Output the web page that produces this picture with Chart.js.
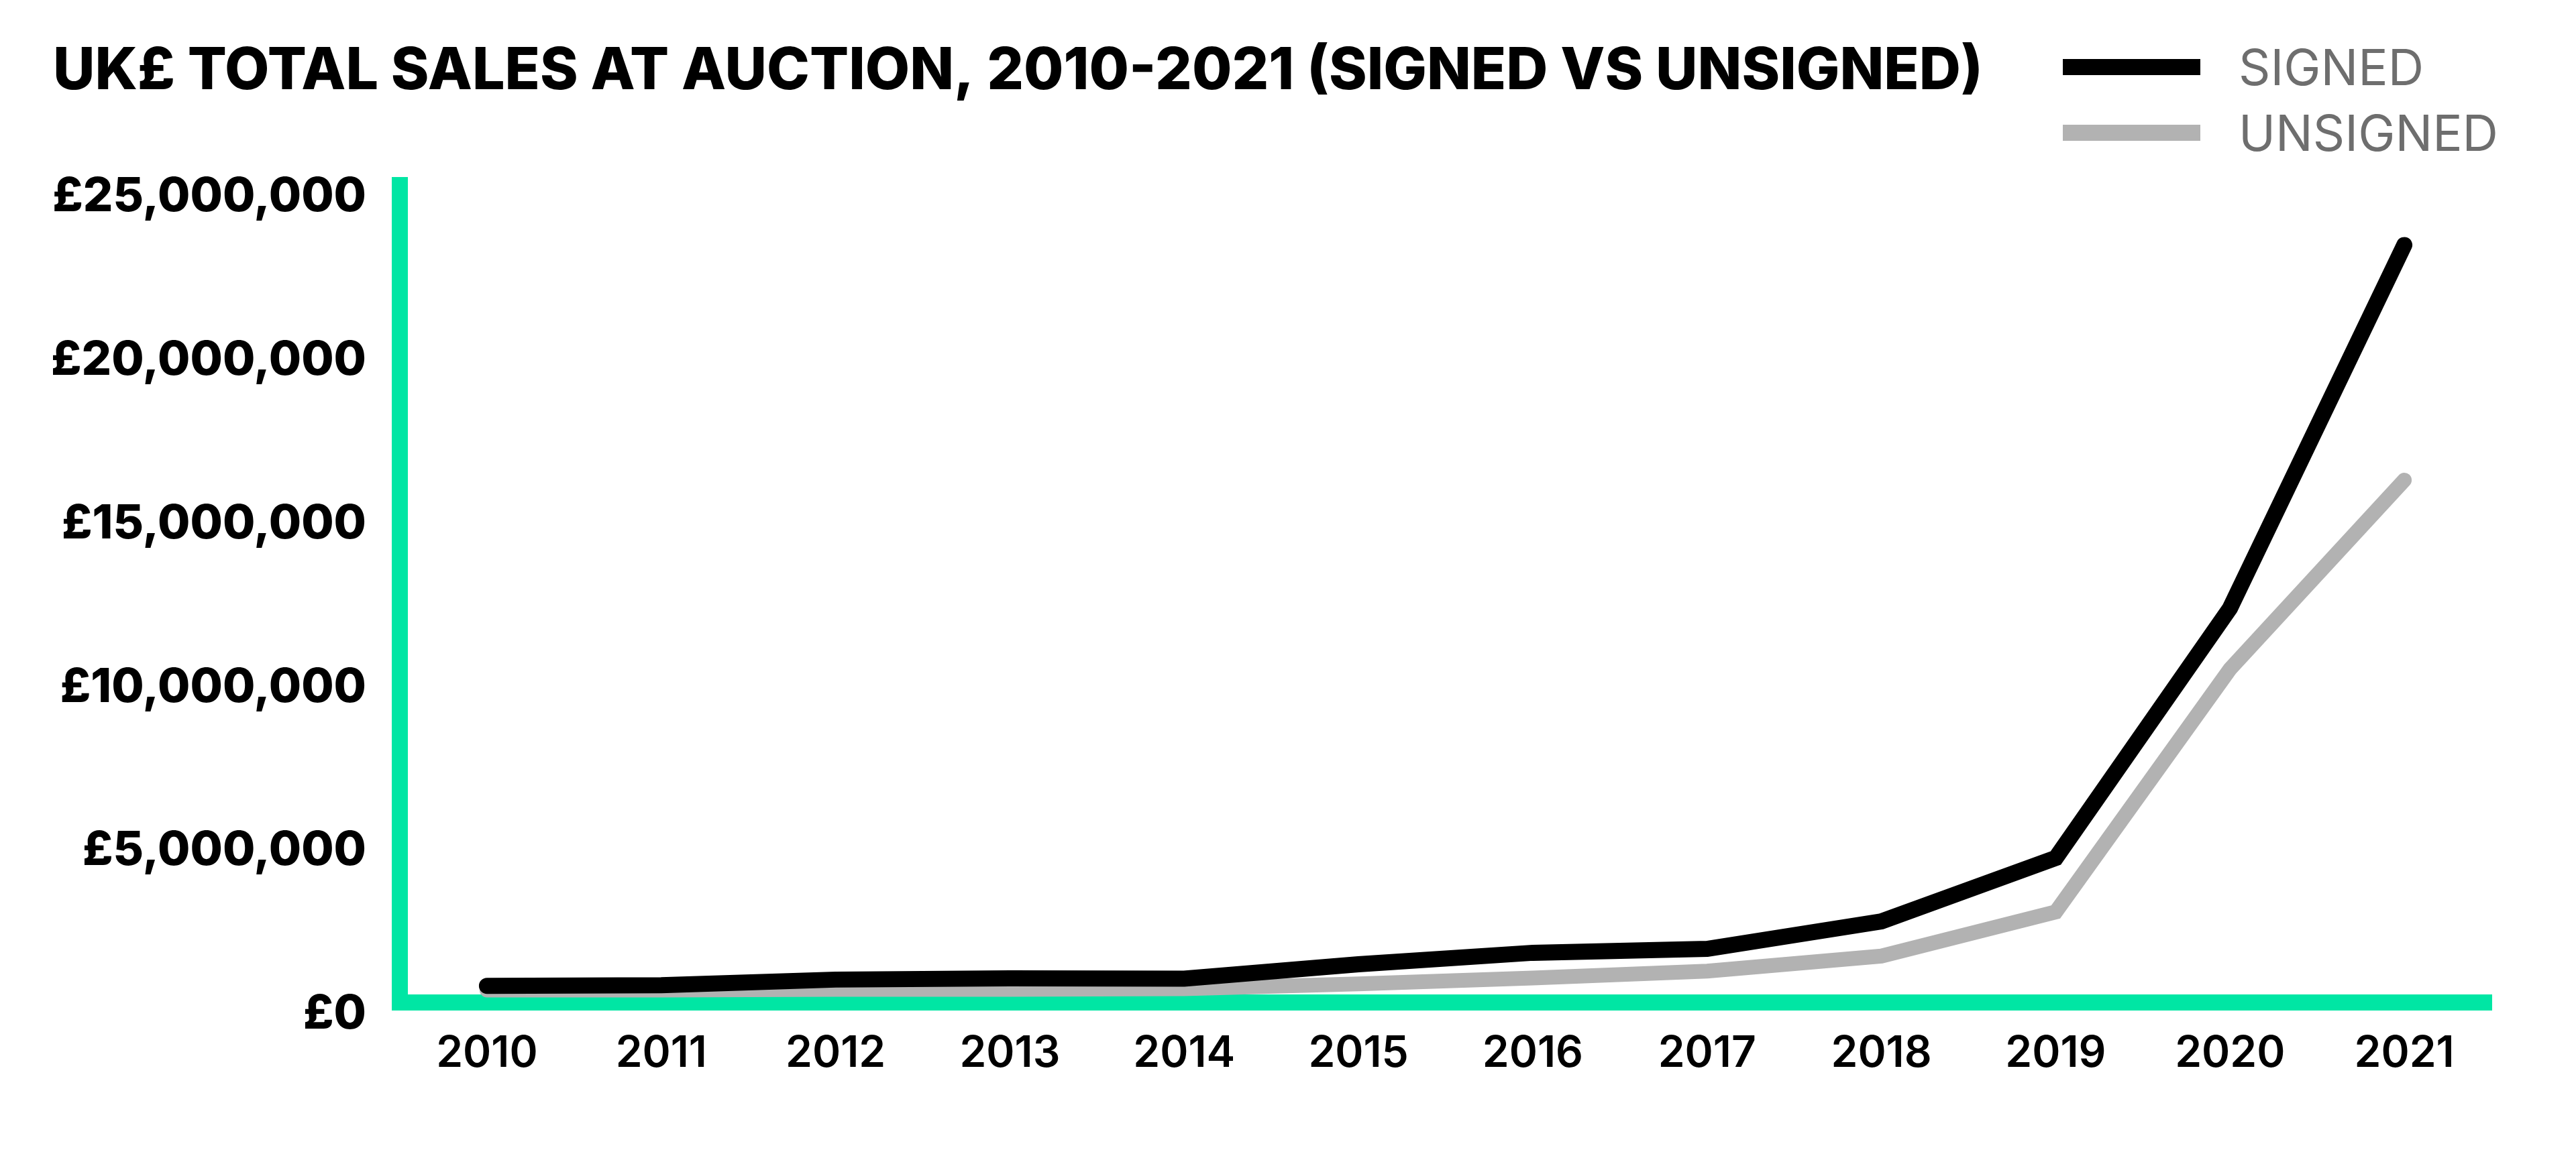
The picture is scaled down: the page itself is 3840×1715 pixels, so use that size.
<!DOCTYPE html>
<html>
<head>
<meta charset="utf-8">
<script src="https://cdn.jsdelivr.net/npm/chart.js@4.4.1/dist/chart.umd.min.js"></script>
<style>
  body { margin: 0; background: #fff; }
  #wrap { position: relative; width: 3840px; height: 1715px; }
  #legend { position: absolute; left: 3075px; top: 51px; font-family: Inter, sans-serif; }
  .item { display: flex; align-items: center; height: 98px; }
  .bar { width: 205px; height: 24px; margin-right: 57px; }
  .lbl { font-size: 74px; color: #6e6e6e; line-height: 1; }
</style>
</head>
<body>
<div id="wrap">
  <canvas id="myChart"></canvas>
  <div id="legend"></div>
</div>
<script>
// years on the x axis
var years = ['2010', '2011', '2012', '2013', '2014', '2015', '2016', '2017', '2018', '2019', '2020', '2021'];

// total sales in UK£
var signed = [510000, 530000, 700000, 740000, 730000, 1170000, 1520000, 1640000, 2480000, 4420000, 12060000, 23170000];
var unsigned = [380000, 380000, 400000, 400000, 420000, 570000, 750000, 960000, 1420000, 2770000, 10200000, 15980000];

// y axis ticks
var yTicks = [0, 5000000, 10000000, 15000000, 20000000, 25000000];

var green = '#00e6a4';

document.addEventListener('DOMContentLoaded', function() {
    var ctx = document.getElementById('myChart').getContext('2d');

    var data = {
        labels: years,
        datasets: [{
            label: 'SIGNED',
            data: signed,
            borderColor: '#000000',
            backgroundColor: '#000000',
            borderWidth: 24
        }, {
            label: 'UNSIGNED',
            data: unsigned,
            borderColor: '#b2b2b2',
            backgroundColor: '#b2b2b2',
            borderWidth: 22
        }]
    };

    var options = {
        responsive: true,
        maintainAspectRatio: false,
        devicePixelRatio: 1,
        animation: false,
        layout: { padding: { left: 79, right: 126, top: 0, bottom: 0 } },
        elements: {
            point: { radius: 0, hoverRadius: 0 },
            line: { tension: 0, borderCapStyle: 'round', borderJoinStyle: 'miter', fill: false }
        },
        plugins: {
            legend: { display: false },
            tooltip: { enabled: false },
            title: {
                display: true,
                text: 'UK£ TOTAL SALES AT AUCTION, 2010-2021 (SIGNED VS UNSIGNED)',
                align: 'start',
                color: '#000000',
                font: { family: 'Inter', size: 86, weight: '800', lineHeight: 1.2 },
                padding: { top: 56, bottom: 117 }
            }
        },
        scales: {
            x: {
                offset: true,
                grid: { display: false, drawTicks: false },
                border: { display: true, color: green, width: 24 },
                ticks: {
                    color: '#000000',
                    padding: 38,
                    font: { family: 'Inter', size: 64, weight: '600', lineHeight: 1.2 }
                },
                afterFit: function(scale) { scale.height = 220; }
            },
            y: {
                min: 0,
                max: 25000000,
                grid: { display: false, drawTicks: false },
                border: { display: true, color: green, width: 24 },
                ticks: {
                    color: '#000000',
                    padding: 50,
                    labelOffset: 18,
                    font: { family: 'Inter', size: 70, weight: '800' },
                    callback: function(value) {
                        return '£' + value.toLocaleString('en-GB');
                    }
                },
                afterBuildTicks: function(scale) {
                    scale.ticks = yTicks.map(function(v) { return { value: v }; });
                },
                afterFit: function(scale) { scale.width = 517; }
            }
        }
    };

    var myChart = new Chart(ctx, {
        type: 'line',
        data: data,
        options: options
    });

    // legend built from the datasets
    var legend = document.getElementById('legend');
    myChart.data.datasets.forEach(function(ds) {
        var item = document.createElement('div');
        item.className = 'item';
        var bar = document.createElement('div');
        bar.className = 'bar';
        bar.style.background = ds.borderColor;
        var lbl = document.createElement('span');
        lbl.className = 'lbl';
        lbl.textContent = ds.label;
        item.appendChild(bar);
        item.appendChild(lbl);
        legend.appendChild(item);
    });
});
</script>
</body>
</html>
